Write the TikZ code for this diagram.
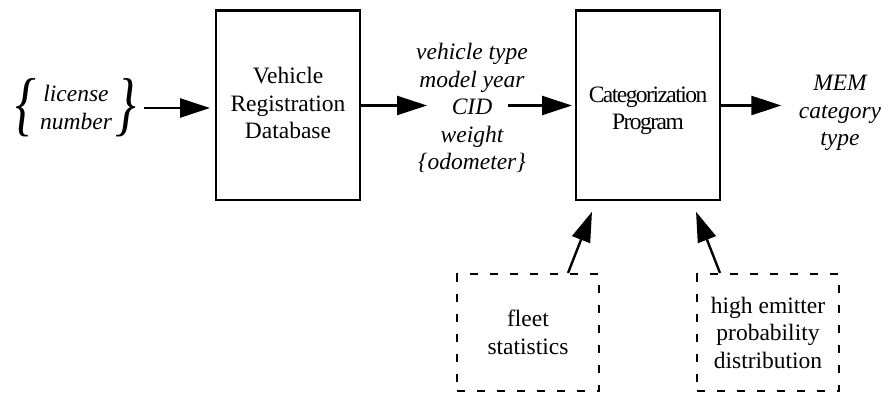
\documentclass[tikz,border=0pt]{standalone}
\usepackage{graphicx}
\usepackage{fontspec}
\setmainfont{Liberation Serif}
\newfontfamily\tightfont{Liberation Serif}[LetterSpace=-6.5]
\usetikzlibrary{arrows.meta}

\begin{document}
\begin{tikzpicture}[x=1pt,y=-1pt,
  font=\fontsize{23.5}{27.5}\selectfont,
  box/.style={draw,line width=2.4pt,minimum width=143.6pt,minimum height=189.6pt,align=center,inner sep=0pt},
  dbox/.style={draw,line width=2.2pt,dash pattern=on 8pt off 12pt,minimum width=141.8pt,minimum height=116.8pt,align=center,inner sep=0pt},
  itext/.style={font=\fontsize{23.5}{27.5}\selectfont\itshape,align=center},
  arr/.style={line width=2.4pt,-{Triangle[length=30pt,width=19pt]}}]
\useasboundingbox (0,0) rectangle (888,395);

% boxes
\node[box] (vrd) at (288,105.5) {};
\node (vrdtext) at (288,103) [align=center] {Vehicle\\Registration\\Database};
\node[box] (cat) at (648,105.5) {};
\node (cattext) at (648,111) [align=center,font=\tightfont\fontsize{23.5}{27.5}\selectfont] {Categorization\\Program};
\node[dbox] (fleet) at (528,332.5) {fleet\\statistics};
\node[dbox] (hep) at (768,332.5) {high emitter\\probability\\distribution};

% texts
\node[itext] (lic) at (76,108) {\raisebox{-11.5pt}{\scalebox{2.2}[3.0]{\{}}\,\begin{tabular}{@{}c@{}}license\\number\end{tabular}\,\raisebox{-11.5pt}{\scalebox{2.2}[3.0]{\}}}};
\node[itext] (attr) at (472,108) {vehicle type\\model year\\CID\\weight\\\{odometer\}};
\node[itext] (mem) at (840,113) {MEM\\category\\type};
\coordinate (cidl) at (427,105.5);
\coordinate (cidr) at (508,105.5);

% arrows
\draw[arr,shorten <=4pt,shorten >=5pt] (lic.east) -- (lic.east -| vrd.west);
\draw[arr] (vrd.east) -- (cidl);
\draw[arr,shorten >=3pt] (cidr) -- (cat.west);
\draw[arr,shorten >=14pt] (cat.east) -- (cat.east -| mem.west);
\draw[arr,shorten >=11pt] ([xshift=40pt]fleet.north) -- ([xshift=-52pt]cat.south);
\draw[arr,shorten >=11pt] ([xshift=-48pt]hep.north) -- ([xshift=44pt]cat.south);
\end{tikzpicture}
\end{document}
